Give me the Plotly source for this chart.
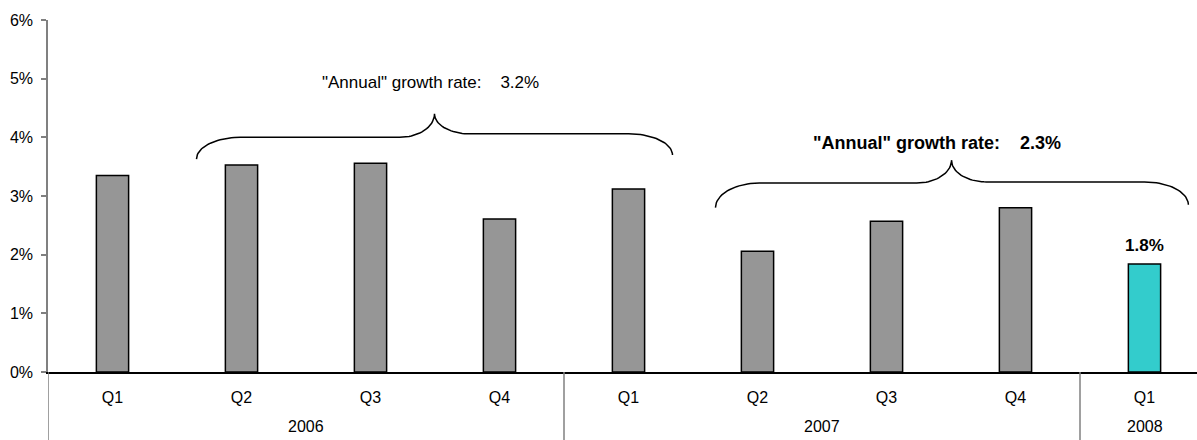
import numpy as np
import plotly.graph_objects as go

# ---- data ----
years = ["2006", "2006", "2006", "2006", "2007", "2007", "2007", "2007", "2008"]
quarters = ["Q1", "Q2", "Q3", "Q4", "Q1", "Q2", "Q3", "Q4", "Q1"]
growth = [3.35, 3.53, 3.56, 2.61, 3.12, 2.06, 2.57, 2.80, 1.84]
bar_colors = ["#969696"] * 8 + ["#33CCCC"]

# brace annotations (x in category-index units, y in %)
brace_x = [(0.651, 2.496, 4.341), (4.674, 6.504, 8.34)]          # start, peak, end
brace_y = [(3.63, 4.00, 4.40, 4.06, 3.70), (2.80, 3.22, 3.61, 3.24, 2.85)]  # endL, flatL, peak, flatR, endR
label_text = ['"Annual" growth rate:\u00a0\u00a0\u00a0\u00a03.2%',
              '<b>"Annual" growth rate:\u00a0\u00a0\u00a0\u00a02.3%</b>']
label_size = [17, 18]
label_pos = [(2.465, 4.93), (6.39, 3.895)]
last_label = "<b>1.8%</b>"

FONT = "Arial, Liberation Sans, sans-serif"
XRANGE = [-0.5, 8.407]
H, T, B = 440, 20, 68
PLOT_H = H - T - B

idx = list(range(len(quarters)))

fig = go.Figure()
fig.add_trace(go.Bar(
    x=idx, y=growth, width=0.25,
    marker=dict(color=bar_colors, line=dict(color="#000000", width=1.5)),
    hoverinfo="skip", showlegend=False,
))


def brace_path(x0, xm, x1, ye0, yh0, yp, yh1, ye1, rx_end=0.34, rx_mid=0.27, n=24):
    t = np.linspace(0, np.pi / 2, n)
    xs, ys = [], []
    # left end: rise from the tip and turn right into the flat part
    xs += list(x0 + rx_end * (1 - np.cos(t))); ys += list(ye0 + (yh0 - ye0) * np.sin(t))
    # left middle: flat part curving up into the peak
    xs += list(xm - rx_mid * (1 - np.sin(t))); ys += list(yp - (yp - yh0) * np.cos(t))
    # right middle: from the peak down into the flat part
    xs += list(xm + rx_mid * (1 - np.cos(t))); ys += list(yh1 + (yp - yh1) * (1 - np.sin(t)))
    # right end: flat part turning down to the tip
    xs += list(x1 - rx_end * (1 - np.sin(t))); ys += list(ye1 + (yh1 - ye1) * np.cos(t))
    return xs, ys


for (x0, xm, x1), (ye0, yh0, yp, yh1, ye1) in zip(brace_x, brace_y):
    bx, by = brace_path(x0, xm, x1, ye0, yh0, yp, yh1, ye1)
    fig.add_trace(go.Scatter(x=bx, y=by, mode="lines",
                             line=dict(color="#000000", width=1.5),
                             hoverinfo="skip", showlegend=False))

for txt, sz, (ax, ay) in zip(label_text, label_size, label_pos):
    fig.add_annotation(x=ax, y=ay, xref="x", yref="y", text=txt, showarrow=False,
                       font=dict(family=FONT, size=sz, color="#000000"))

fig.add_annotation(x=idx[-1], y=growth[-1], xref="x", yref="y", text=last_label,
                   showarrow=False, yanchor="bottom", yshift=7,
                   font=dict(family=FONT, size=17, color="#000000"))

# year group labels and dividers below the axis
groups = []
for i, yr in enumerate(years):
    if not groups or groups[-1][0] != yr:
        groups.append([yr, i, i])
    else:
        groups[-1][2] = i
for yr, i0, i1 in groups:
    fig.add_annotation(x=(i0 + i1) / 2, y=-54 / PLOT_H, xref="x", yref="paper", text=yr,
                       showarrow=False, yanchor="middle",
                       font=dict(family=FONT, size=16, color="#000000"))
    fig.add_shape(type="line", xref="x", yref="paper", x0=i0 - 0.5, x1=i0 - 0.5,
                  y0=0, y1=-B / PLOT_H, line=dict(color="#808080", width=1.5))

fig.update_layout(
    width=1197, height=H,
    margin=dict(l=48, r=0, t=T, b=B),
    plot_bgcolor="#FFFFFF", paper_bgcolor="#FFFFFF",
    font=dict(family=FONT, size=16, color="#000000"),
    xaxis=dict(range=XRANGE, tickvals=idx, ticktext=quarters, showline=True,
               linecolor="#000000", linewidth=1.5, ticks="", showgrid=False,
               zeroline=False, automargin=False, ticklabelstandoff=10,
               tickfont=dict(family=FONT, size=16, color="#000000")),
    yaxis=dict(range=[0, 6], dtick=1, ticksuffix="%", showgrid=False, zeroline=False,
               showline=True, linecolor="#808080", linewidth=1.5, ticks="outside",
               ticklen=5, tickcolor="#808080", tickwidth=1.5, automargin=False,
               ticklabelstandoff=5,
               tickfont=dict(family=FONT, size=16, color="#000000")),
)

fig.write_html("out.html", config={"displayModeBar": False},
               post_script="document.body.style.margin='0';")
